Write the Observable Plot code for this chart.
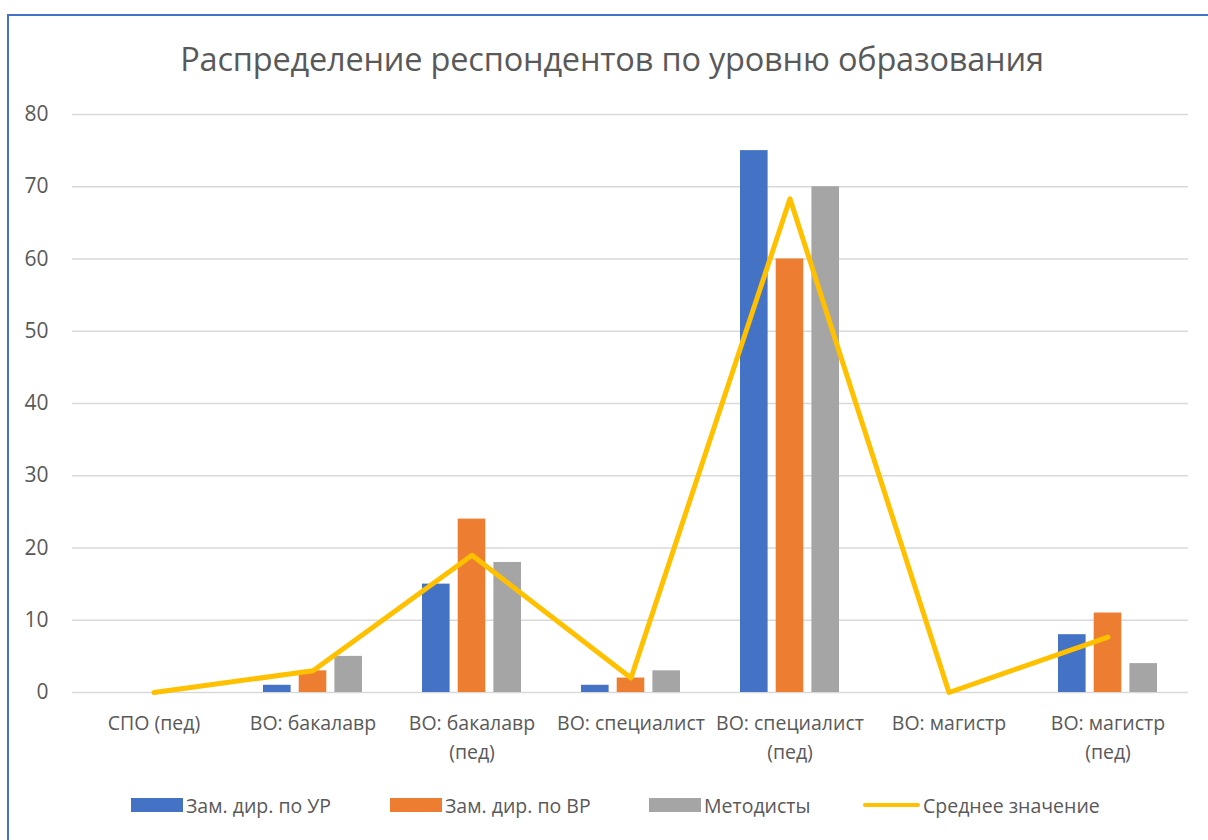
<!DOCTYPE html>
<html>
<head>
<meta charset="utf-8">
<script src="https://cdn.jsdelivr.net/npm/d3@7"></script>
<script src="https://cdn.jsdelivr.net/npm/@observablehq/plot@0.6"></script>
<style>
  html, body { margin: 0; padding: 0; background: #fff; }
  #wrap { position: relative; width: 1208px; height: 840px; overflow: hidden; font-family: "Open Sans", "Noto Sans", sans-serif; color: #595959; }
  #frame { position: absolute; left: 7px; top: 14px; width: 1300px; height: 900px; border-left: 2px solid #4472C4; border-top: 2px solid #4472C4; box-sizing: border-box; }
  #title { position: absolute; left: 0; width: 1224px; top: 36px; text-align: center; font-size: 32.5px; color: #595959; letter-spacing: -0.2px; }
  #chart { position: absolute; left: 0; top: 0; }
  #legend { position: absolute; top: 792px; left: 0; width: 1208px; height: 26px; font-size: 19.5px; color: #595959; }
  .item { position: absolute; display: flex; align-items: center; height: 26px; }
  .sw { display: inline-block; width: 52px; height: 14px; margin-right: 3px; }
  .ln { display: inline-block; width: 57px; height: 4px; border-radius: 2px; margin-right: 3px; }
</style>
</head>
<body>
<div id="wrap">
  <div id="frame"></div>
  <div id="title">Распределение респондентов по уровню образования</div>
  <div id="chart"></div>
  <div id="legend"></div>
</div>
<script>
const categories = ["СПО (пед)", "ВО: бакалавр", "ВО: бакалавр\n(пед)", "ВО: специалист", "ВО: специалист\n(пед)", "ВО: магистр", "ВО: магистр\n(пед)"];
const seriesNames = ["Зам. дир. по УР", "Зам. дир. по ВР", "Методисты", "Среднее значение"];
const zamUR = [0, 1, 15, 1, 75, 0, 8];
const zamVR = [0, 3, 24, 2, 60, 0, 11];
const metodisty = [0, 5, 18, 3, 70, 0, 4];
const average = [0, 3, 19, 2, 68.33, 0, 7.67];
const yTicks = [0, 10, 20, 30, 40, 50, 60, 70, 80];
const colors = ["#4472C4", "#ED7D31", "#A5A5A5", "#FFC000"];

const rows = (vals) => categories.map((c, i) => ({cat: c, v: vals[i]}));
const barSeries = [zamUR, zamVR, metodisty];
const offsets = [-35.7, 0, 35.7];

const plot = Plot.plot({
  width: 1208,
  height: 840,
  marginTop: 114,
  marginBottom: 148,
  marginLeft: 72,
  marginRight: 20,
  style: {fontFamily: "'Open Sans', 'Noto Sans', sans-serif", fontSize: "19.5px", color: "#595959", background: "transparent"},
  x: {domain: categories, padding: 0, label: null},
  y: {domain: [0, 80], label: null},
  marks: [
    Plot.gridY(yTicks, {stroke: "#d9d9d9", strokeOpacity: 1, strokeWidth: 1.5}),
    ...barSeries.map((vals, k) => Plot.barY(rows(vals).filter(d => d.v > 0), {
      x: "cat", y: "v", fill: colors[k], insetLeft: 65.7, insetRight: 65.7, dx: offsets[k]
    })),
    Plot.line(rows(average), {x: "cat", y: "v", stroke: colors[3], strokeWidth: 5, strokeLinejoin: "round", strokeLinecap: "round"}),
    Plot.axisY(yTicks, {tickSize: 0, tickPadding: 24, fill: "#595959", fontSize: 21}),
    Plot.axisX({tickSize: 0, tickPadding: 17, fill: "#595959", fontSize: 19.5, lineHeight: 1.48})
  ]
});
document.getElementById("chart").appendChild(plot);

const legendPos = [131, 390, 649, 863];
const legend = document.getElementById("legend");
seriesNames.forEach((name, i) => {
  const item = document.createElement("div");
  item.className = "item";
  item.style.left = legendPos[i] + "px";
  const sw = document.createElement("span");
  sw.className = i < 3 ? "sw" : "ln";
  sw.style.background = colors[i];
  item.appendChild(sw);
  const t = document.createElement("span");
  t.textContent = name;
  item.appendChild(t);
  legend.appendChild(item);
});
</script>
</body>
</html>
